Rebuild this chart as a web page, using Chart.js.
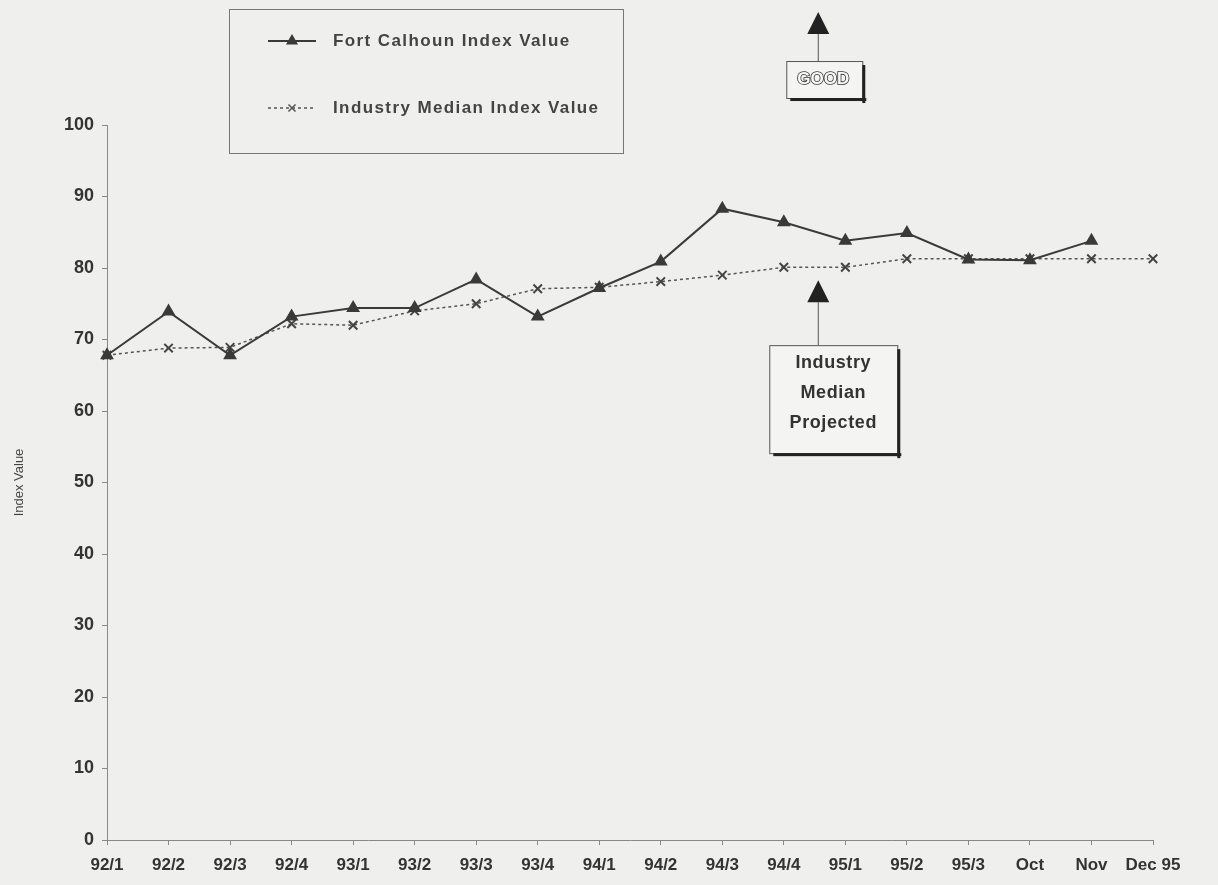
<!DOCTYPE html>
<html>
<head>
<meta charset="utf-8">
<script src="https://cdn.jsdelivr.net/npm/chart.js@4/dist/chart.umd.min.js"></script>
<style>
  html, body { margin: 0; padding: 0; background: #efefed; }
  #wrap { width: 1218px; height: 885px; }
</style>
</head>
<body>
<div id="wrap"><canvas id="IVChart" width="1218" height="885"></canvas></div>
<script>
const IVLabels = ['92/1','92/2','92/3','92/4','93/1','93/2','93/3','93/4','94/1','94/2','94/3','94/4','95/1','95/2','95/3','Oct','Nov','Dec 95'];
const IVFortCalhoun = [67.8, 73.9, 67.8, 73.2, 74.4, 74.4, 78.4, 73.2, 77.2, 80.9, 88.3, 86.4, 83.8, 84.9, 81.2, 81.1, 83.8, null];
const IVIndustryMedian = [67.8, 68.8, 68.9, 72.2, 72.0, 74.0, 75.0, 77.1, 77.3, 78.1, 79.0, 80.1, 80.1, 81.3, 81.3, 81.3, 81.3, 81.3];
const IVYTicks = [0, 10, 20, 30, 40, 50, 60, 70, 80, 90, 100];

const ink = '#3a3a3a';
const fam = '"Liberation Sans", Arial, sans-serif';

// legend box, "GOOD" arrow and the projected note
const IVNotes = {
  id: 'IVNotes',
  afterDraw(chart) {
    const c = chart.ctx;
    const xs = chart.scales.x, ys = chart.scales.y;
    const step = xs.getPixelForValue(1) - xs.getPixelForValue(0);
    const ax = xs.getPixelForValue(11) + 0.56 * step;

    c.save();
    // legend
    c.strokeStyle = '#777'; c.lineWidth = 1;
    c.strokeRect(229.5, 9.5, 394, 144);
    c.font = 'bold 17px ' + fam;
    c.letterSpacing = '1.4px';
    c.fillStyle = '#444'; c.textBaseline = 'middle'; c.textAlign = 'left';
    chart.data.datasets.forEach((ds, i) => {
      const y = 41 + i * 67;
      c.strokeStyle = ds.borderColor; c.lineWidth = ds.borderWidth;
      c.setLineDash(ds.borderDash || []);
      c.beginPath(); c.moveTo(268, y); c.lineTo(316, y); c.stroke();
      c.setLineDash([]);
      Chart.helpers.drawPoint(c, {pointStyle: ds.pointStyle, radius: 5, borderWidth: 2}, 292, y);
      if (ds.pointStyle === 'triangle') { c.fillStyle = ink; c.fill(); }
      c.fillStyle = '#444';
      c.fillText(ds.label, 333, y);
    });
    c.letterSpacing = '0px';

    // arrows
    const tri = (x, yTop) => {
      c.fillStyle = '#222';
      c.beginPath(); c.moveTo(x, yTop); c.lineTo(x - 11, yTop + 22); c.lineTo(x + 11, yTop + 22); c.closePath(); c.fill();
    };
    const box = (x0, y0, w, h) => {
      c.fillStyle = '#f4f4f2'; c.fillRect(x0, y0, w, h);
      c.strokeStyle = '#555'; c.lineWidth = 1; c.strokeRect(x0 + 0.5, y0 + 0.5, w, h);
      c.fillStyle = '#222';
      c.fillRect(x0 + w, y0 + 4, 3, h + 1);
      c.fillRect(x0 + 4, y0 + h, w, 3);
    };
    c.strokeStyle = '#555'; c.lineWidth = 1;
    // GOOD
    const gTop = ys.getPixelForValue(115.8);
    tri(ax, gTop);
    c.beginPath(); c.moveTo(ax, gTop + 22); c.lineTo(ax, gTop + 49); c.stroke();
    box(ax - 32, gTop + 49, 76, 37);
    c.font = 'bold 17px ' + fam;
    c.fillStyle = '#fafafa'; c.strokeStyle = '#333'; c.lineWidth = 1.6; c.textAlign = 'center';
    c.strokeText('GOOD', ax + 5, gTop + 67);
    c.fillText('GOOD', ax + 5, gTop + 67);

    // Industry Median Projected
    const pTop = ys.getPixelForValue(78.3);
    tri(ax, pTop);
    c.strokeStyle = '#555'; c.lineWidth = 1;
    c.beginPath(); c.moveTo(ax, pTop + 22); c.lineTo(ax, pTop + 65); c.stroke();
    box(ax - 49, pTop + 65, 128, 108);
    c.font = 'bold 18px ' + fam;
    c.letterSpacing = '0.6px';
    c.fillStyle = '#333'; c.textAlign = 'center';
    ['Industry', 'Median', 'Projected'].forEach((t, i) => c.fillText(t, ax + 15, pTop + 83 + i * 30));
    c.restore();
  }
};

const ctx = document.getElementById('IVChart').getContext('2d');
const IVChart = new Chart(ctx, {
  type: 'line',
  data: {
    labels: IVLabels,
    datasets: [{
      label: 'Fort Calhoun Index Value',
      data: IVFortCalhoun,
      borderColor: ink,
      borderWidth: 2,
      pointStyle: 'triangle',
      pointRadius: 6,
      pointBackgroundColor: ink,
      pointBorderColor: ink,
      tension: 0
    }, {
      label: 'Industry Median Index Value',
      data: IVIndustryMedian,
      borderColor: '#555',
      borderWidth: 1.5,
      borderDash: [3, 3],
      pointStyle: 'crossRot',
      pointRadius: 6,
      pointBorderWidth: 2,
      pointBorderColor: '#444',
      tension: 0
    }]
  },
  options: {
    responsive: false,
    animation: false,
    layout: { padding: { top: 125, right: 65, left: 0, bottom: 0 } },
    plugins: { legend: { display: false }, tooltip: { enabled: false } },
    scales: {
      x: {
        offset: false,
        grid: { drawOnChartArea: false, tickLength: 5, color: '#888' },
        border: { color: '#888' },
        ticks: { color: '#333', font: { family: fam, size: 17, weight: 'bold' }, maxRotation: 0, autoSkip: false, padding: 10 },
        afterFit: s => { s.height = 45; }
      },
      y: {
        min: 0, max: 100,
        afterBuildTicks: s => { s.ticks = IVYTicks.map(v => ({ value: v })); },
        grid: { drawOnChartArea: false, tickLength: 5, color: '#888' },
        border: { color: '#888' },
        ticks: { color: '#333', font: { family: fam, size: 18, weight: 'bold' }, padding: 8 },
        title: { display: true, text: 'Index Value', color: '#444', padding: { top: 12, bottom: 4 }, font: { family: fam, size: 13 } },
        afterFit: s => { s.width = 107; }
      }
    }
  },
  plugins: [{
    id: 'bg',
    beforeDraw(chart) {
      const c = chart.ctx; c.save(); c.fillStyle = '#efefed'; c.fillRect(0, 0, chart.width, chart.height); c.restore();
    }
  }, IVNotes]
});
</script>
</body>
</html>
